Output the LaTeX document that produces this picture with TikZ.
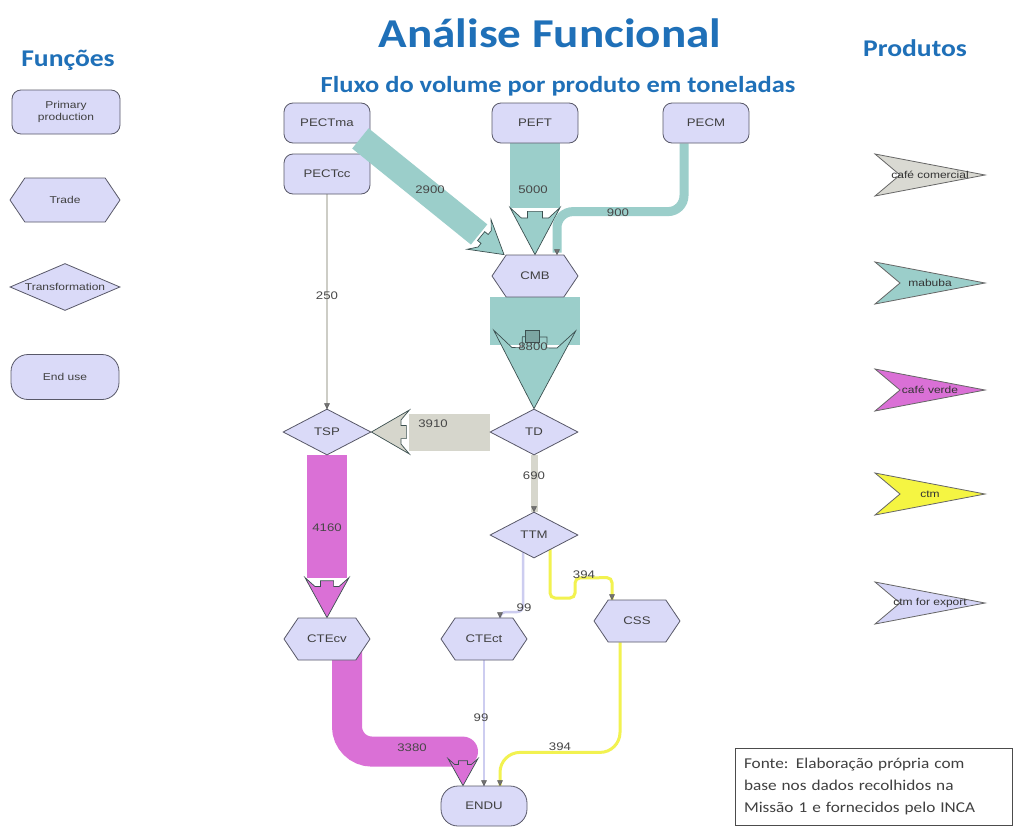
\documentclass[tikz,border=0pt]{standalone}
\usepackage{fontspec}
\newfontfamily\labelfont[FakeStretch=1.2]{Liberation Sans}
\newfontfamily\headfont[FakeStretch=1.15]{Carlito}
\usetikzlibrary{shapes.geometric,shapes.symbols,arrows.meta,calc}
\pgfdeclarelayer{canvas}
\pgfdeclarelayer{background}
\pgfsetlayers{canvas,background,main}

\definecolor{titleblue}{RGB}{31,112,184}
\definecolor{nodefill}{RGB}{218,218,248}
\definecolor{nodeedge}{RGB}{88,88,104}
\definecolor{headedge}{RGB}{60,80,80}
\definecolor{tealband}{RGB}{155,206,202}
\definecolor{magband}{RGB}{218,112,214}
\definecolor{greyband}{RGB}{214,214,204}
\definecolor{yellowline}{RGB}{242,242,80}
\definecolor{lavline}{RGB}{205,205,240}
\definecolor{greyline}{RGB}{205,205,198}
\definecolor{prodgrey}{RGB}{217,217,210}
\definecolor{prodyellow}{RGB}{245,245,66}
\definecolor{prodlav}{RGB}{213,213,247}

\tikzset{
  box/.style={draw=nodeedge, fill=nodefill, line width=0.8pt, text=black!75,
    font=\labelfont\fontsize{11}{13}\selectfont, inner sep=1pt},
  primbox/.style={box, rectangle, rounded corners=9pt, minimum width=86pt, minimum height=40pt},
  tradebox/.style={box, signal, signal to=east and west, signal pointer angle=112,
    minimum width=86pt, minimum height=42pt},
  transbox/.style={box, diamond, minimum width=88pt, minimum height=46pt, inner sep=0pt},
  endbox/.style={box, rectangle, rounded corners=17pt, minimum width=86pt, minimum height=40pt},
  legendfont/.style={font=\labelfont\fontsize{10}{11.5}\selectfont},
  flowlabel/.style={font=\labelfont\fontsize{11}{13}\selectfont, text=black!72, inner sep=1pt},
  prodlabel/.style={font=\labelfont\fontsize{10}{12}\selectfont, text=black!80, inner sep=0pt},
  % arrowhead of a volume band: tip at the origin, pointing along +x,
  % with a notched base (#1 half width, #2 length, #3 fill colour)
  pics/notchhead/.style n args={3}{code={
    \filldraw[fill=#3, draw=headedge, line width=0.7pt, line join=miter]
      (0,0) -- (-#2,#1) -- (-#2+0.22*#2,0.55*#1) -- (-#2+0.22*#2,0.3*#1)
      -- (-#2+0.08*#2,0.3*#1) -- (-#2+0.08*#2,-0.3*#1) -- (-#2+0.22*#2,-0.3*#1)
      -- (-#2+0.22*#2,-0.55*#1) -- (-#2,-#1) -- cycle;
  }},
  % small marker at the end of a thin connector, pointing down
  pics/tinytip/.style={code={
    \filldraw[fill=black!55, draw=black!65, line width=0.4pt] (-2.5,-5) -- (2.5,-5) -- (0,0) -- cycle;
  }},
}

% straight volume band: #1 start, #2 tip, #3 band width, #4 head length,
% #5 head half width, #6 colour
\newcommand\flowband[6]{%
  \draw[#6, line width=#3pt] (#1) -- ($(#2)!#4pt!(#1)$);
  \path let \p1=($(#2)-(#1)$), \n1={atan2(\y1,\x1)} in
    pic[rotate=\n1] at (#2) {notchhead={#5}{#4}{#6}};
}

% product legend chevron: #1 y, #2 colour, #3 node name, #4 text
\newcommand\prodarrow[4]{%
  \filldraw[fill=#2, draw=black!60, line width=0.8pt, line join=miter]
    (875,#1-21) -- (985,#1) -- (875,#1+21) -- (900,#1) -- cycle;
  \node[prodlabel] (#3) at (930,#1) {#4};
}

\begin{document}
\begin{tikzpicture}[x=1pt,y=-1pt]
\begin{pgfonlayer}{canvas}
  \fill[white] (0,0) rectangle (1016,827);
\end{pgfonlayer}
\useasboundingbox (0,0) rectangle (1016,827);

% titles
\node[anchor=base, text=titleblue, font=\headfont\bfseries\fontsize{41}{46}\selectfont, inner sep=0pt]
  (title) at (550,47) {Análise Funcional};
\node[anchor=base, text=titleblue, font=\headfont\bfseries\fontsize{23}{26}\selectfont, inner sep=0pt]
  (subtitle) at (558,92) {Fluxo do volume por produto em toneladas};
\node[anchor=base, text=titleblue, font=\headfont\bfseries\fontsize{24}{28}\selectfont, inner sep=0pt]
  (funcoes) at (68,66) {Funções};
\node[anchor=base, text=titleblue, font=\headfont\bfseries\fontsize{24}{28}\selectfont, inner sep=0pt]
  (produtos) at (915,56) {Produtos};

% legend of functions
\node[primbox, legendfont, minimum width=108pt, minimum height=44pt, align=center]
  (lprim) at (66,112) {Primary\\production};
\node[tradebox, legendfont, minimum width=110pt, minimum height=44pt] (ltrade) at (65,200) {Trade};
\node[transbox, legendfont, minimum width=110pt, minimum height=47pt] (ltrans) at (65,287)
  {\makebox[0pt]{Transformation}};
\node[endbox, legendfont, minimum width=108pt, minimum height=45pt] (lend) at (65,377) {End use};

% legend of products
\prodarrow{175}{prodgrey}{pcom}{café comercial}
\prodarrow{283}{tealband}{pmab}{mabuba}
\prodarrow{390}{magband}{pver}{café verde}
\prodarrow{494}{prodyellow}{pctm}{ctm}
\prodarrow{603}{prodlav}{pexp}{ctm for export}

% actors
\node[primbox] (PECTma) at (327,123) {PECTma};
\node[primbox] (PECTcc) at (327,174) {PECTcc};
\node[primbox] (PEFT)   at (535,123) {PEFT};
\node[primbox] (PECM)   at (706,123) {PECM};
\node[tradebox] (CMB)   at (535,276) {CMB};
\node[transbox] (TD)    at (534,432) {TD};
\node[transbox] (TSP)   at (327,432) {TSP};
\node[transbox] (TTM)   at (534,535) {TTM};
\node[tradebox] (CTEcv) at (327,639) {CTEcv};
\node[tradebox] (CTEct) at (484,639) {CTEct};
\node[tradebox] (CSS)   at (637,621) {CSS};
\node[endbox] (ENDU)    at (484,806) {ENDU};

% flows drawn behind the actors
\begin{pgfonlayer}{background}
  % mabuba
  \flowband{PEFT.south}{CMB.north}{50}{47}{25}{tealband}
  \draw[tealband, line width=9pt, rounded corners=16pt]
    ($(PECM.south)+(-22,0)$) |- ($(CMB.north)+(22,-43)$) -- ($(CMB.north)+(22,-2)$);
  \pic at ($(CMB.north)+(22,0)$) {tinytip};
  \fill[tealband] ($(CMB.south)+(-45,0)$) rectangle ($(CMB.south)+(45,48)$);
  \flowband{CMB.south}{TD.north}{88}{78}{41}{tealband}
  \filldraw[fill=tealband!80!black, draw=headedge, line width=0.5pt]
    ($(CMB.south)+(-10,33)$) rectangle ($(CMB.south)+(4,45)$);
  % café comercial
  \flowband{TD.west}{TSP.east}{37}{38}{22}{greyband}
  \draw[greyband, line width=7pt] (TD.south) -- (TTM.north);
  \pic at (TTM.north) {tinytip};
  \draw[greyline, line width=2pt] (PECTcc.south) -- (TSP.north);
  \pic at (TSP.north) {tinytip};
  % café verde
  \flowband{TSP.south}{CTEcv.north}{40}{40}{22}{magband}
  \draw[magband, line width=30pt, rounded corners=25pt, line cap=round]
    ($(CTEcv.south)+(20,-10)$) |- ($(ENDU.north)+(-21,-34)$);
  \pic[rotate=-90] at ($(ENDU.north)+(-21,0)$) {notchhead={15}{27}{magband}};
  % ctm for export
  \draw[lavline, line width=2.5pt, rounded corners=6pt]
    ($(TTM.center)+(-11,16)$) -- ($(TTM.center)+(-11,77)$) -| ($(CTEct.north)+(16,0)$);
  \pic at ($(CTEct.north)+(16,0)$) {tinytip};
  \draw[lavline, line width=2.5pt] (CTEct.south) -- (ENDU.north);
  \pic at (ENDU.north) {tinytip};
  % ctm
  \draw[yellowline, line width=3pt, rounded corners=5pt]
    ($(TTM.center)+(16,14)$) -- ($(TTM.center)+(16,63)$) -- ($(TTM.center)+(41,63)$)
    -- ($(TTM.center)+(41,43)$) -- ($(CSS.north)+(-25,-22)$) -- ($(CSS.north)+(-25,0)$);
  \pic at ($(CSS.north)+(-25,0)$) {tinytip};
  \draw[yellowline, line width=3pt, rounded corners=20pt]
    ($(CSS.south)+(-17,0)$) -- ++(0,110) -| ($(ENDU.north)+(16,0)$);
  \pic at ($(ENDU.north)+(16,0)$) {tinytip};
\end{pgfonlayer}

% band crossing the corners of the two PECT boxes
\flowband{$(PECTma.south east)+(-10,-5)$}{$(CMB.north)+(-31,0)$}{26}{32}{19}{tealband}

% volumes
\node[flowlabel] (v2900) at (430,190) {2900};
\node[flowlabel] (v5000) at (533,190) {5000};
\node[flowlabel] (v900)  at (618,213) {900};
\node[flowlabel] (v8800) at (533,347) {8800};
\node[flowlabel] (v3910) at (433,424) {3910};
\node[flowlabel] (v690)  at (534,476) {690};
\node[flowlabel] (v250)  at (327,296) {250};
\node[flowlabel] (v4160) at (327,528) {4160};
\node[flowlabel] (v99a)  at (524,608) {99};
\node[flowlabel] (v394a) at (584,575) {394};
\node[flowlabel] (v3380) at (412,748) {3380};
\node[flowlabel] (v99b)  at (481,718) {99};
\node[flowlabel] (v394b) at (560,747) {394};

% source note
\node[draw=black!70, line width=0.8pt, minimum width=277pt, minimum height=77pt,
  text width=259pt, align=left, inner sep=0pt, text=black!75,
  font=\headfont\fontsize{15}{22}\selectfont] (fonte) at (873.5,786.5)
  {Fonte: Elaboração própria com\\base nos dados recolhidos na\\Missão 1 e fornecidos pelo INCA};
\end{tikzpicture}
\end{document}
